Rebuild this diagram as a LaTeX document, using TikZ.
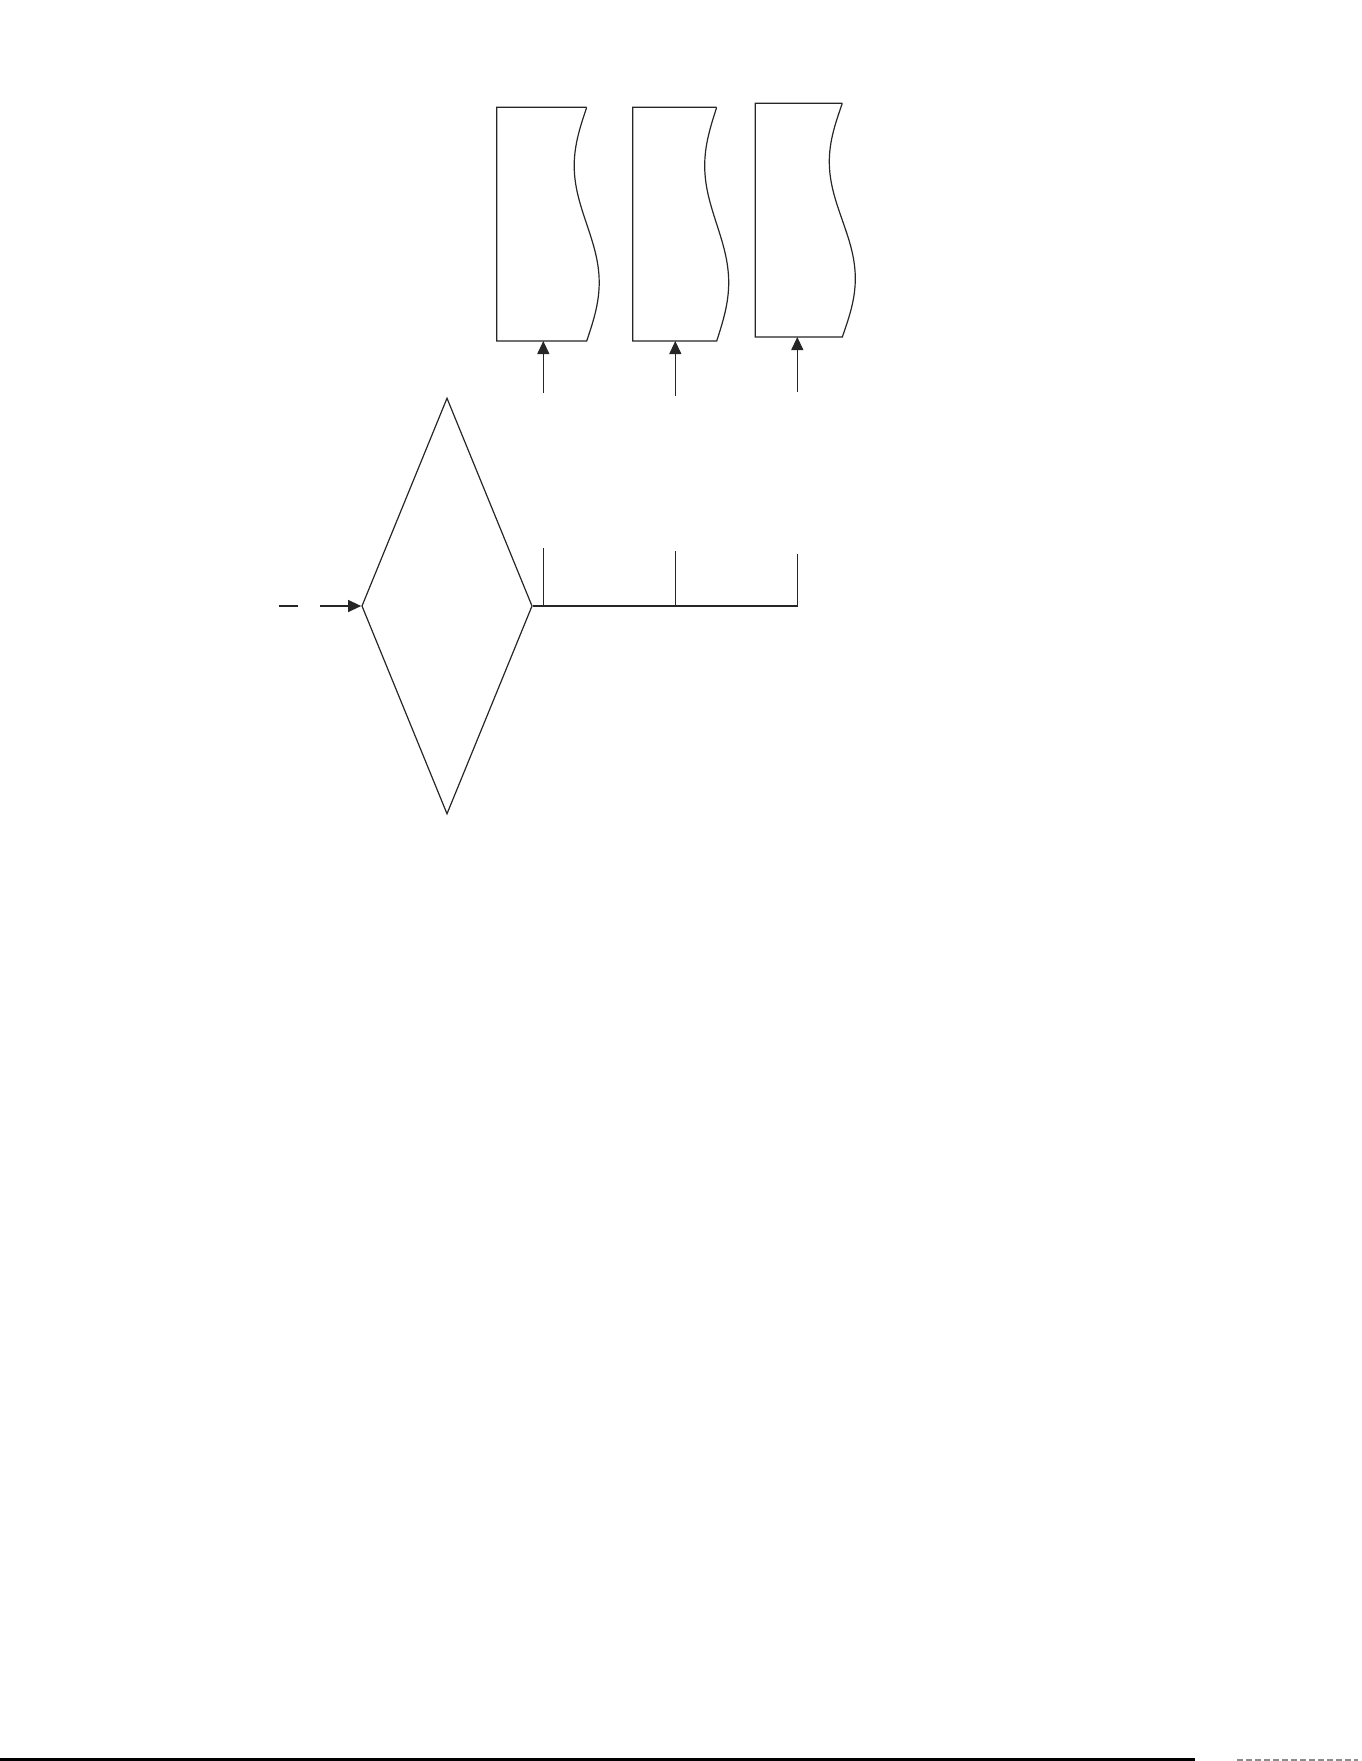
\documentclass[tikz,border=0pt]{standalone}
\usetikzlibrary{arrows.meta,shapes.geometric}
\begin{document}
\begin{tikzpicture}[x=0.5pt,y=-0.5pt,
  ln/.style={line width=0.6pt,draw=black!85},
  arr/.style={ln,-{Triangle[length=6.5pt,width=6pt]}},
  docbox/.style={ln,fill=white}]
\useasboundingbox (0,0) rectangle (1361,1761);
% documents
\draw[docbox] (586.7,107.3) -- (496.7,107.3) -- (496.7,341) -- (586.7,341)
  -- plot[domain=1:0,samples=60,smooth] ({586.7-12.5*sin(360*\x)},{107.3+233.7*\x});
\draw[docbox] (716.7,107.3) -- (632.7,107.3) -- (632.7,341) -- (716.7,341)
  -- plot[domain=1:0,samples=60,smooth] ({716.7-12*sin(360*\x)},{107.3+233.7*\x});
\draw[docbox] (842.3,103.3) -- (755.3,103.3) -- (755.3,337) -- (842.3,337)
  -- plot[domain=1:0,samples=60,smooth] ({842.3-13*sin(360*\x)},{103.3+233.7*\x});
\coordinate (b1) at (543.3,341);
\coordinate (b2) at (675.3,341);
\coordinate (b3) at (797.3,337);
\coordinate (s1) at (543.3,393);
\coordinate (s2) at (675.3,396);
\coordinate (s3) at (797.3,391.7);
\draw[arr] (s1) -- (b1);
\draw[arr] (s2) -- (b2);
\draw[arr] (s3) -- (b3);
% decision
\node[ln,diamond,minimum width=85.25pt,minimum height=208pt,inner sep=0pt,shape aspect=0.41] (dec) at (447,606) {};
% input
\coordinate (i0) at (278.5,606);
\coordinate (i1) at (298,606);
\coordinate (i2) at (320,606);
\draw[ln] (i0) -- (i1);
\draw[arr] (i2) -- (dec.west);
% branches
\coordinate (h3) at (797.3,606);
\coordinate (v1) at (543.3,548.3);
\coordinate (v2) at (675.3,551);
\coordinate (v3) at (797.3,554);
\draw[ln] (dec.east) -- (h3) -- (v3);
\draw[ln] (v1) -- (v1 |- h3);
\draw[ln] (v2) -- (v2 |- h3);
% bottom rule
\coordinate (r0) at (0,1759.5);
\coordinate (r1) at (1195,1759.5);
\coordinate (r2) at (1237,1759.5);
\coordinate (r3) at (1358,1759.5);
\draw[line width=1.2pt,black] (r0) -- (r1);
\draw[line width=1pt,black!45,dash pattern=on 3pt off 1.5pt] (r2) -- (r3);
\end{tikzpicture}
\end{document}
